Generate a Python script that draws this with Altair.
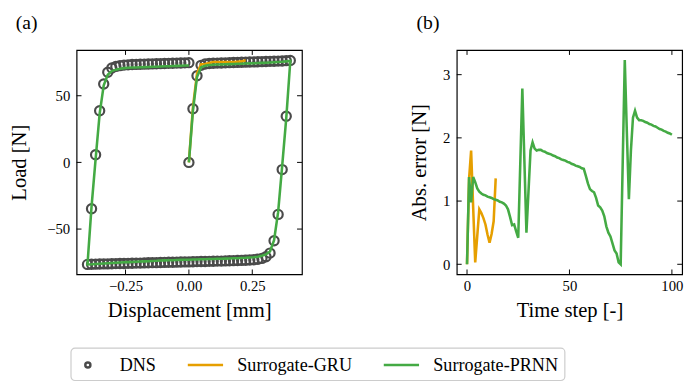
import altair as alt
import numpy as np
import pandas as pd

FONT = "Liberation Serif"
W, H = 230, 229

# ---------------- data ----------------
series_names = ["DNS", "Surrogate-GRU", "Surrogate-PRNN"]
series_colors = ["#4a4a4a", "#E69F00", "#44AA44"]

# displacement [mm] per time step (load 0->0.4, unload 0.4->-0.4, reload -0.4->0)
disp_load = [0.000, 0.016, 0.032, 0.048, 0.064, 0.080, 0.096, 0.112, 0.128, 0.144,
             0.160, 0.176, 0.192, 0.208, 0.224, 0.240, 0.256, 0.272, 0.288, 0.304,
             0.320, 0.336, 0.352, 0.368, 0.384, 0.400]
disp_unload = [0.384, 0.368, 0.352, 0.336, 0.320, 0.304, 0.288, 0.272, 0.256, 0.240,
               0.224, 0.208, 0.192, 0.176, 0.160, 0.144, 0.128, 0.112, 0.096, 0.080,
               0.064, 0.048, 0.032, 0.016, 0.000, -0.016, -0.032, -0.048, -0.064, -0.080,
               -0.096, -0.112, -0.128, -0.144, -0.160, -0.176, -0.192, -0.208, -0.224, -0.240,
               -0.256, -0.272, -0.288, -0.304, -0.320, -0.336, -0.352, -0.368, -0.384, -0.400]
disp_reload = [-0.384, -0.368, -0.352, -0.336, -0.320, -0.304, -0.288, -0.272, -0.256, -0.240,
               -0.224, -0.208, -0.192, -0.176, -0.160, -0.144, -0.128, -0.112, -0.096, -0.080,
               -0.064, -0.048, -0.032, -0.016, 0.000]

# DNS load [N]
dns_load_1 = [0.0, 40.2, 65.0, 72.8, 73.8, 74.2, 74.4, 74.5, 74.6, 74.7,
              74.8, 74.9, 75.0, 75.1, 75.2, 75.3, 75.4, 75.5, 75.6, 75.7,
              75.8, 75.9, 76.0, 76.1, 76.3, 76.5]
dns_load_2 = [34.6, -5.4, -39.0, -58.8, -68.0, -70.8, -72.0, -72.6, -73.0, -73.2,
              -73.4, -73.5, -73.6, -73.7, -73.8, -73.9, -74.0, -74.0, -74.1, -74.2,
              -74.3, -74.3, -74.4, -74.5, -74.6, -74.6, -74.7, -74.8, -74.9, -74.9,
              -75.0, -75.1, -75.2, -75.2, -75.3, -75.4, -75.5, -75.5, -75.6, -75.7,
              -75.8, -75.8, -75.9, -76.0, -76.1, -76.1, -76.2, -76.3, -76.4, -76.5]
dns_load_3 = [-34.8, 5.7, 38.7, 58.8, 67.6, 70.8, 72.0, 72.6, 73.0, 73.2,
              73.4, 73.5, 73.6, 73.7, 73.8, 73.9, 74.0, 74.1, 74.2, 74.3,
              74.4, 74.5, 74.6, 74.7, 74.8]

# absolute error [N] per time step
prnn_err_1 = [0.00, 1.38, 0.98, 1.38, 1.30, 1.20, 1.15, 1.12, 1.10, 1.09,
              1.07, 1.06, 1.05, 1.03, 1.02, 1.01, 0.99, 0.98, 0.96, 0.93,
              0.87, 0.75, 0.62, 0.63, 0.52, 0.42]
prnn_err_2 = [1.60, 2.78, 1.64, 0.50, 1.15, 1.80, 1.93, 1.83, 1.80, 1.81,
              1.81, 1.79, 1.78, 1.76, 1.75, 1.74, 1.72, 1.71, 1.69, 1.68,
              1.66, 1.65, 1.64, 1.62, 1.61, 1.59, 1.58, 1.56, 1.55, 1.54,
              1.52, 1.51, 1.40, 1.28, 1.19, 1.16, 1.14, 1.05, 0.93, 0.90,
              0.85, 0.76, 0.60, 0.50, 0.44, 0.33, 0.22, 0.17, 0.03, 0.00]
prnn_err_3 = [1.62, 3.23, 2.10, 1.03, 1.80, 2.32, 2.43, 2.32, 2.28, 2.28,
              2.27, 2.25, 2.24, 2.22, 2.21, 2.19, 2.18, 2.16, 2.14, 2.13,
              2.11, 2.10, 2.08, 2.07, 2.05]
gru_err = [0.00, 1.35, 1.80, 0.90, 0.03, 0.45, 0.87, 0.81, 0.73, 0.63,
           0.47, 0.34, 0.48, 0.68, 1.36]

xticks_a = [-0.25, 0.0, 0.25]
yticks_a = [-50, 0, 50]
xticks_b = [0, 50, 100]
yticks_b = [0, 1, 2, 3]

# ---------------- tables ----------------
disp = np.array(disp_load + disp_unload + disp_reload)
dns = np.array(dns_load_1 + dns_load_2 + dns_load_3)
prnn_err = np.array(prnn_err_1 + prnn_err_2 + prnn_err_3)
gerr = np.array(gru_err)
steps = np.arange(len(disp))
ng = len(gerr)

sgn = np.where(dns >= 0, 1.0, -1.0)
prnn_load = dns - sgn * prnn_err
gru_load = dns[:ng] + sgn[:ng] * gerr

df_dns = pd.DataFrame({"step": steps, "disp": disp, "load": dns, "series": "DNS"})
df_gru = pd.DataFrame({"step": steps[:ng], "disp": disp[:ng], "load": gru_load, "series": "Surrogate-GRU"})
df_prnn = pd.DataFrame({"step": steps, "disp": disp, "load": prnn_load, "series": "Surrogate-PRNN"})
df_err_gru = pd.DataFrame({"step": steps[:ng], "err": gerr, "series": "Surrogate-GRU"})
df_err_prnn = pd.DataFrame({"step": steps, "err": prnn_err, "series": "Surrogate-PRNN"})

# ---------------- scales ----------------
CIRCLE = "M-0.26,0A0.26,0.26 0 1,0 0.26,0A0.26,0.26 0 1,0 -0.26,0Z"
LINE = "M-1.8,0L1.8,0"
color_scale = alt.Scale(domain=series_names, range=series_colors)
shape_scale = alt.Scale(domain=series_names, range=[CIRCLE, LINE, LINE])
legend = alt.Legend(title=None)

xs_a = alt.Scale(domain=[-0.443, 0.446], nice=False, zero=False)
ys_a = alt.Scale(domain=[-84.0, 84.3], nice=False, zero=False)
xs_b = alt.Scale(domain=[-5, 105], nice=False, zero=False)
ys_b = alt.Scale(domain=[-0.16, 3.39], nice=False, zero=False)

color_enc = alt.Color("series:N", scale=color_scale, legend=legend)
shape_enc = alt.Shape("series:N", scale=shape_scale, legend=legend)


def inward_ticks(xvals, yvals, xfield, yfield, xenc, yenc, L=5):
    xt = pd.DataFrame({xfield: xvals})
    yt = pd.DataFrame({yfield: yvals})
    base_x = alt.Chart(xt).mark_rule(color="black", strokeWidth=1)
    base_y = alt.Chart(yt).mark_rule(color="black", strokeWidth=1)
    return [
        base_x.encode(x=xenc, y=alt.value(H), y2=alt.value(H - L)),
        base_x.encode(x=xenc, y=alt.value(0), y2=alt.value(L)),
        base_y.encode(y=yenc, x=alt.value(0), x2=alt.value(L)),
        base_y.encode(y=yenc, x=alt.value(W), x2=alt.value(W - L)),
    ]


# ---------------- panel (a) ----------------
xa = alt.X("disp:Q", scale=xs_a, title="Displacement [mm]",
           axis=alt.Axis(values=xticks_a, format=".2f"))
ya = alt.Y("load:Q", scale=ys_a, title="Load [N]",
           axis=alt.Axis(values=yticks_a, format="d", titlePadding=17.5))

pts = alt.Chart(df_dns).mark_point(filled=False, strokeWidth=2.2, size=1307, opacity=1).encode(
    x=xa, y=ya, color=color_enc, shape=shape_enc)
gru_a = alt.Chart(df_gru).mark_line(strokeWidth=2.6).encode(
    x=xa, y=ya, color=color_enc, order="step:Q")
prnn_a = alt.Chart(df_prnn).mark_line(strokeWidth=2.6).encode(
    x=xa, y=ya, color=color_enc, order="step:Q")

panel_a = alt.layer(pts, gru_a, prnn_a,
                    *inward_ticks(xticks_a, yticks_a, "disp", "load", xa, ya)).properties(
    width=W, height=H,
    title=alt.TitleParams("(a)", anchor="start", frame="group", dx=-62, offset=1,
                          baseline="alphabetic"))

# ---------------- panel (b) ----------------
xb = alt.X("step:Q", scale=xs_b, title="Time step [-]",
           axis=alt.Axis(values=xticks_b, format="d"))
yb = alt.Y("err:Q", scale=ys_b, title="Abs. error [N]",
           axis=alt.Axis(values=yticks_b, format="d", titlePadding=13))

gru_b = alt.Chart(df_err_gru).mark_line(strokeWidth=2.6).encode(
    x=xb, y=yb, color=color_enc, order="step:Q")
prnn_b = alt.Chart(df_err_prnn).mark_line(strokeWidth=2.6).encode(
    x=xb, y=yb, color=color_enc, order="step:Q")

panel_b = alt.layer(gru_b, prnn_b,
                    *inward_ticks(xticks_b, yticks_b, "step", "err", xb, yb)).properties(
    width=W, height=H,
    title=alt.TitleParams("(b)", anchor="start", frame="group", dx=-41, offset=1,
                          baseline="alphabetic"))

chart = alt.hconcat(panel_a, panel_b, spacing=106).properties(
    padding={"left": 0, "top": 0, "right": 5, "bottom": 0}
).configure(font=FONT).configure_view(
    stroke="black", strokeWidth=1.2
).configure_axis(
    grid=False, domain=False, ticks=False, tickSize=0,
    labelFont=FONT, labelFontSize=15, labelColor="black",
    titleFont=FONT, titleFontSize=21, titleFontWeight="normal", titleColor="black",
).configure_axisX(
    labelPadding=4, titlePadding=7
).configure_axisY(
    labelPadding=7
).configure_title(
    font=FONT, fontSize=20, fontWeight="normal", color="black"
).configure_legend(
    orient="none", legendX=-6, legendY=304, direction="horizontal",
    strokeColor="#cccccc", strokeWidth=1.2, cornerRadius=4, padding=6,
    labelFont=FONT, labelFontSize=18.5, labelColor="black",
    symbolSize=400, symbolStrokeWidth=2.5, labelOffset=21,
    columnPadding=26,
)

chart.save("out.html", embed_options={"renderer": "svg", "actions": False})
